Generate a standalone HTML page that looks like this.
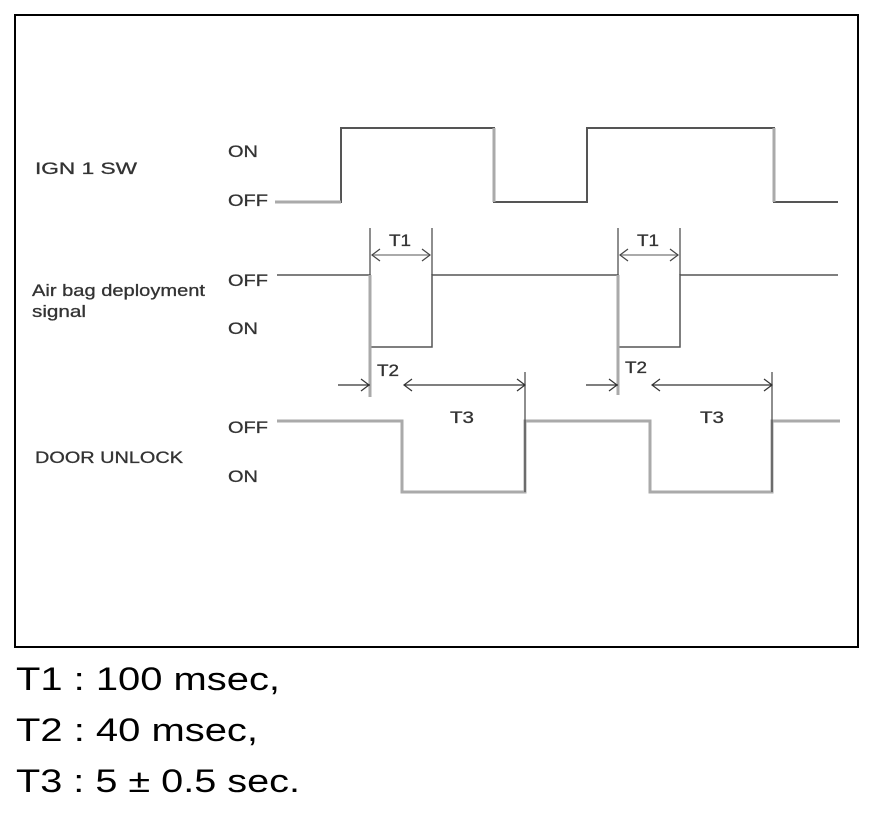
<!DOCTYPE html>
<html><head><style>
body{margin:0;background:#fff;}
svg{display:block}
.l{font-family:"Liberation Sans",sans-serif;font-size:17px;fill:#333;stroke:#333;stroke-width:0.3}
.b{font-family:"Liberation Sans",sans-serif;font-size:32px;fill:#000}
</style></head><body>
<svg width="880" height="820" viewBox="0 0 880 820">
<rect x="15" y="15" width="843" height="632" fill="none" stroke="#000" stroke-width="2"/>
<g class="l">
<text x="35" y="174" textLength="102" lengthAdjust="spacingAndGlyphs">IGN 1 SW</text>
<text x="228" y="157" textLength="30" lengthAdjust="spacingAndGlyphs">ON</text>
<text x="228" y="206" textLength="40" lengthAdjust="spacingAndGlyphs">OFF</text>
<text x="32" y="296" textLength="173" lengthAdjust="spacingAndGlyphs">Air bag deployment</text>
<text x="32" y="317" textLength="54" lengthAdjust="spacingAndGlyphs">signal</text>
<text x="228" y="286" textLength="40" lengthAdjust="spacingAndGlyphs">OFF</text>
<text x="228" y="334" textLength="30" lengthAdjust="spacingAndGlyphs">ON</text>
<text x="228" y="433" textLength="40" lengthAdjust="spacingAndGlyphs">OFF</text>
<text x="35" y="463" textLength="148" lengthAdjust="spacingAndGlyphs">DOOR UNLOCK</text>
<text x="228" y="482" textLength="30" lengthAdjust="spacingAndGlyphs">ON</text>
<text x="389" y="246" textLength="22" lengthAdjust="spacingAndGlyphs">T1</text>
<text x="637" y="246" textLength="22" lengthAdjust="spacingAndGlyphs">T1</text>
<text x="377" y="376" textLength="22" lengthAdjust="spacingAndGlyphs">T2</text>
<text x="625" y="373" textLength="22" lengthAdjust="spacingAndGlyphs">T2</text>
<text x="450" y="423" textLength="24" lengthAdjust="spacingAndGlyphs">T3</text>
<text x="700" y="423" textLength="24" lengthAdjust="spacingAndGlyphs">T3</text>
</g>
<g fill="none" stroke-linejoin="miter">
<path d="M275 202H341V128H494V202H587V128H774V202H838" stroke="#555" stroke-width="2"/>
<path d="M275 202H341M494 128V202M774 128V202" stroke="#aaa" stroke-width="3"/>
<path d="M277 275H370V347H432V275H618V347H680V275H838" stroke="#555" stroke-width="1.5"/>
<path d="M370 275V397M618 275V395" stroke="#aaa" stroke-width="3"/>
<path d="M432 228V275M680 228V275M370 228V275M618 228V275" stroke="#444" stroke-width="1.2"/>
<path d="M372 255H430M620 255H678" stroke="#aaa" stroke-width="2"/>
<path d="M380 249L372 255L380 261M422 249L430 255L422 261M628 249L620 255L628 261M670 249L678 255L670 261" stroke="#444" stroke-width="1.2"/>
<path d="M277 421H402V492H525V421H650V492H772V421H840" stroke="#aaa" stroke-width="3"/>
<path d="M525 372V492M772 372V492" stroke="#444" stroke-width="1.2"/>
<path d="M338 385H370M404 385H525M586 385H618M652 385H772" stroke="#333" stroke-width="1.2"/>
<path d="M361 379L369 385L361 391M412 379L404 385L412 391M517 379L525 385L517 391M609 379L617 385L609 391M660 379L652 385L660 391M764 379L772 385L764 391" stroke="#333" stroke-width="1.2"/>
</g>
<text class="b" x="16" y="690" textLength="264" lengthAdjust="spacingAndGlyphs">T1 : 100 msec,</text>
<text class="b" x="16" y="741" textLength="242" lengthAdjust="spacingAndGlyphs">T2 : 40 msec,</text>
<text class="b" x="16" y="792" textLength="284" lengthAdjust="spacingAndGlyphs">T3 : 5 ± 0.5 sec.</text>
</svg>
</body></html>
